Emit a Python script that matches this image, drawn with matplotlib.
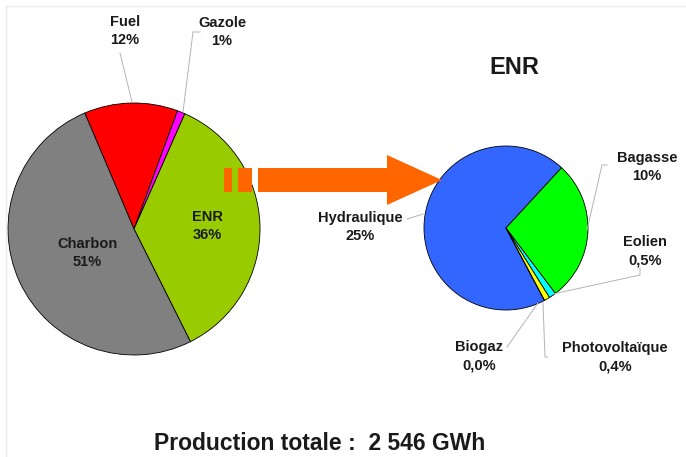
import matplotlib.pyplot as plt
from matplotlib.patches import Rectangle, Polygon

plt.rcParams['font.family'] = ['Liberation Sans', 'DejaVu Sans']

# production mix (% of total)
mix_labels = ['Fuel', 'Gazole', 'ENR', 'Charbon']
mix_values = [12, 1, 36, 51]
mix_text = ['12%', '1%', '36%', '51%']
mix_colors = ['#ff0000', '#ff00ff', '#99cc00', '#808080']

# renewable breakdown (% of total)
enr_labels = ['Hydraulique', 'Bagasse', 'Eolien', 'Photovoltaïque', 'Biogaz']
enr_values = [25, 10, 0.5, 0.4, 0.0]
enr_text = ['25%', '10%', '0,5%', '0,4%', '0,0%']
enr_colors = ['#3366ff', '#00ff00', '#00ffff', '#ffff00', '#ff9900']

total_txt = 'Production totale :  2 546 GWh'

W, H = 686, 457


def py(y):
    return H - y


fig = plt.figure(figsize=(6.86, 4.57), dpi=100)
ax = fig.add_axes([0, 0, 1, 1])

wp = dict(edgecolor='black', linewidth=0.6)
ax.pie(mix_values, colors=mix_colors, center=(134, py(229)), radius=126,
       startangle=113, counterclock=False, wedgeprops=wp)
ax.pie(enr_values, colors=enr_colors, center=(506, py(228)), radius=82,
       startangle=-62, counterclock=False, wedgeprops=wp)

ax.set_xlim(0, W)
ax.set_ylim(0, H)
ax.set_aspect('equal')
ax.axis('off')

# faint frame
ax.plot([6, W], [py(6), py(6)], color='#ebebeb', lw=1)
ax.plot([6, 6], [py(6), 0], color='#ebebeb', lw=1)

# arrow
orange = '#ff6600'
ax.add_patch(Rectangle((224, py(192)), 8, 24, color=orange, lw=0, zorder=5))
ax.add_patch(Rectangle((238, py(192)), 14, 24, color=orange, lw=0, zorder=5))
ax.add_patch(Polygon([(258, py(168)), (387, py(168)), (387, py(155)),
                      (442, py(180)), (387, py(205)), (387, py(192)),
                      (258, py(192))], closed=True, color=orange, lw=0, zorder=5))

# labels
lab_pos = {
    'Fuel': (125, 31), 'Gazole': (222, 32), 'ENR': (207, 226), 'Charbon': (87, 253),
    'Hydraulique': (360, 227), 'Bagasse': (647, 167), 'Eolien': (645, 251),
    'Photovoltaïque': (615, 357), 'Biogaz': (479, 356),
}
names = mix_labels + enr_labels
pcts = mix_text + enr_text
for name, pct in zip(names, pcts):
    x, y = lab_pos[name]
    ax.text(x, py(y), name + '\n' + pct, ha='center', va='center', fontsize=10.5,
            fontweight='bold', color='#1a1a1a', linespacing=1.4, zorder=6)

# leader lines
lc = '#b3b3b3'
leaders = [
    [(120, 53), (132, 102)],
    [(200, 32), (193, 32), (183, 112)],
    [(407, 219), (423, 214)],
    [(607, 165), (602, 165), (587, 230)],
    [(640, 268), (640, 275), (553, 294)],
    [(548, 357), (545, 357), (543, 303)],
    [(507, 347), (538, 303)],
]
for pts in leaders:
    ax.plot([p[0] for p in pts], [py(p[1]) for p in pts], color=lc, lw=0.7, zorder=4)

ax.text(514, py(68), 'ENR', ha='center', va='center', fontsize=17,
        fontweight='bold', color='#1a1a1a')
ax.text(320, py(443), total_txt, ha='center', va='center', fontsize=16.5,
        fontweight='bold', color='#1a1a1a')

fig.savefig('out.png', dpi=100)
